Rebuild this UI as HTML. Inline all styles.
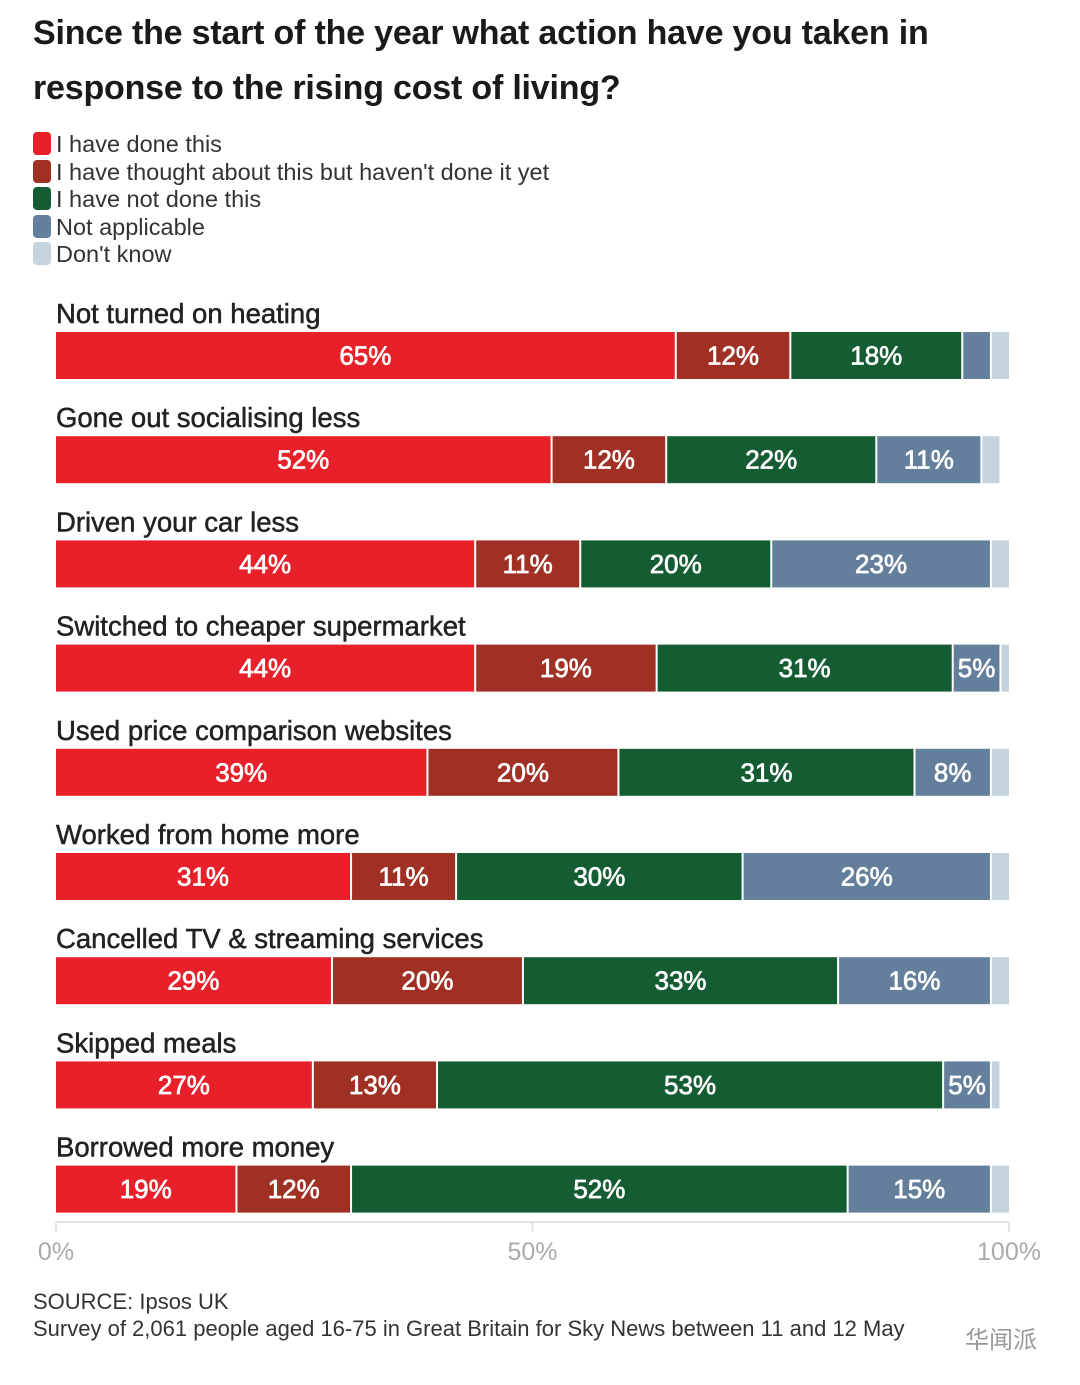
<!DOCTYPE html>
<html><head><meta charset="utf-8">
<style>
body{margin:0;background:#fff;font-family:"Liberation Sans","Noto Sans CJK SC",sans-serif;color:#222;}
#wrap{position:relative;width:1080px;height:1385px;overflow:hidden;}
.title{position:absolute;left:33px;font-size:34px;font-weight:bold;color:#1a1a1a;letter-spacing:-0.2px;white-space:nowrap;}
.leg{position:absolute;left:33px;height:24px;font-size:23.5px;color:#333;white-space:nowrap;line-height:24px;}
.leg span.sw{display:inline-block;width:18px;height:23px;border-radius:4px;vertical-align:top;margin-right:5px;}
.foot{position:absolute;left:33px;font-size:22px;color:#333;white-space:nowrap;}
</style></head><body>
<div id="wrap">
<div class="title" style="top:14px">Since the start of the year what action have you taken in</div>
<div class="title" style="top:69px">response to the rising cost of living?</div>
<div class="leg" style="top:132px"><span class="sw" style="background:#e8202a"></span>I have done this</div>
<div class="leg" style="top:160px"><span class="sw" style="background:#a03024"></span>I have thought about this but haven't done it yet</div>
<div class="leg" style="top:187px"><span class="sw" style="background:#145c32"></span>I have not done this</div>
<div class="leg" style="top:215px"><span class="sw" style="background:#647f9c"></span>Not applicable</div>
<div class="leg" style="top:242px"><span class="sw" style="background:#c5d3de"></span>Don't know</div>
<svg id="chart" width="1080" height="1385" style="position:absolute;left:0;top:0"></svg>
<div class="foot" style="top:1289px">SOURCE: Ipsos UK</div>
<div class="foot" style="top:1316px">Survey of 2,061 people aged 16-75 in Great Britain for Sky News between 11 and 12 May</div>
<div style="position:absolute;left:965px;top:1320px;font-size:24px;color:#999">华闻派</div>
</div>
<script>
const categories=["Not turned on heating","Gone out socialising less","Driven your car less","Switched to cheaper supermarket","Used price comparison websites","Worked from home more","Cancelled TV & streaming services","Skipped meals","Borrowed more money"];
const done=[65,52,44,44,39,31,29,27,19];
const thought=[12,12,11,19,20,11,20,13,12];
const notDone=[18,22,20,31,31,30,33,53,52];
const notApplicable=[3,11,23,5,8,26,16,5,15];
const dontKnow=[2,2,2,1,2,2,2,1,2];
const ticks=[0,50,100];
const tickLabels=["0%","50%","100%"];
const seriesNames=["done","thought","not-done","not-applicable","dont-know"];
const colors=["#e8202a","#a03024","#145c32","#647f9c","#c5d3de"];
const series=[done,thought,notDone,notApplicable,dontKnow];
const NS="http://www.w3.org/2000/svg";
const svg=document.getElementById('chart');
const x0=56,x1=1011;
const xs=v=>x0+(x1-x0)*v/100;
const rowY=i=>332+i*104.2;
const bh=47;
function mk(t,a){const e=document.createElementNS(NS,t);for(const k in a)e.setAttribute(k,a[k]);svg.appendChild(e);return e;}
categories.forEach((c,i)=>{
  const y=rowY(i);
  const lab=mk('text',{x:56,y:y-9,'font-size':27.5,fill:'#222',stroke:'#222','stroke-width':0.5,'font-family':'Liberation Sans, sans-serif'});
  lab.textContent=c;
  
  
  let cum=0;
  series.forEach((s,j)=>{
    const v=s[i];const xa=xs(cum),xb=xs(cum+v);
    const r=mk('rect',{x:xa,y:y,width:Math.max(0,xb-xa-2),height:bh,fill:colors[j]});
    
    
    if(v>=5){
      const t=mk('text',{x:(xa+xb-2)/2,y:y+bh/2+9,'font-size':26,fill:'#fff',stroke:'#fff','stroke-width':0.7,'text-anchor':'middle','font-family':'Liberation Sans, sans-serif'});
      t.textContent=v+'%';
      
      
    }
    cum+=v;
  });
});
const ax=mk('line',{x1:x0,x2:1009,y1:1222,y2:1222,stroke:'#e3e3e3','stroke-width':2});


ticks.forEach((t,k)=>{
  const tx=x0+(1009-x0)*t/100;
  const tk=mk('line',{x1:tx,x2:tx,y1:1222,y2:1232,stroke:'#e3e3e3','stroke-width':2});
  
  
  const tl=mk('text',{x:tx,y:1260,'font-size':25,fill:'#aaa','text-anchor':'middle','font-family':'Liberation Sans, sans-serif'});
  tl.textContent=tickLabels[k];
  
  
});
</script>
</body></html>
